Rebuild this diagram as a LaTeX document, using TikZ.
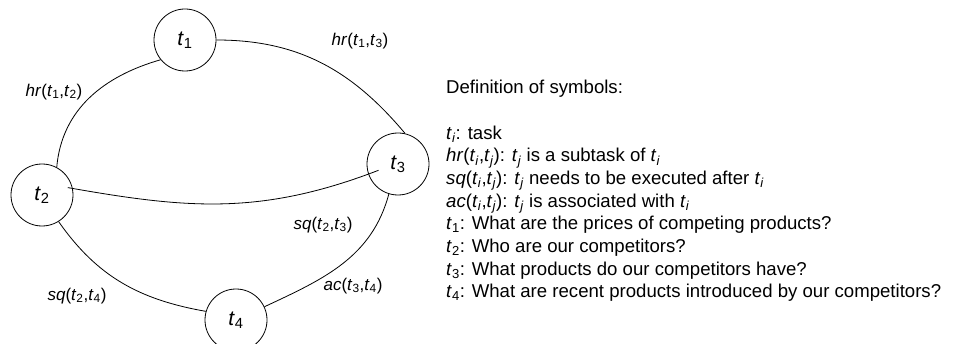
\documentclass[tikz,border=0pt]{standalone}
\usepackage{fontspec}
\setmainfont{Liberation Sans}
\usetikzlibrary{positioning}

\newcommand{\tk}[1]{\textit{t}\textsubscript{#1}}
\newcommand{\tki}{\tk{\textit{i}}}
\newcommand{\tkj}{\tk{\textit{j}}}

\begin{document}
\begin{tikzpicture}[x=1pt, y=1pt,
  task/.style={draw, circle, minimum size=62pt, inner sep=0pt, line width=0.8pt,
    font=\fontsize{21}{21}\selectfont},
  rel/.style={inner sep=0pt, font=\fontsize{17}{17}\selectfont},
  legend/.style={align=left, inner sep=0pt, font=\fontsize{18.6}{22.7}\selectfont}]
  \useasboundingbox (0,0) rectangle (953,343);
  % Task nodes
  \node[task] (t1) at (185,303) {\tk{1}};
  \node[task] (t2) at (42,148) {\tk{2}};
  \node[task] (t3) at (398,179) {\tk{3}};
  \node[task] (t4) at (236,23) {\tk{4}};
  % Relations between tasks
  \draw[line width=0.8pt] (t1.east) to[out=0, in=130] (t3.77);
  \draw[line width=0.8pt] (t1.219) to[out=196, in=85] (t2.62);
  \draw[line width=0.8pt, shorten <=-5pt, shorten >=-11pt]
    (t2.12) to[out=-10, in=201] (t3.199);
  \draw[line width=0.8pt] (t2.302) to[out=-55, in=170] (t4.164);
  \draw[line width=0.8pt] (t3.253) to[out=-105, in=25] (t4.25);
  % Labels of the relations
  \node[rel] (hr13) at (360,302) {\textit{hr}(\tk{1},\tk{3})};
  \node[rel] (hr12) at (54,251) {\textit{hr}(\tk{1},\tk{2})};
  \node[rel] (sq23) at (323,118) {\textit{sq}(\tk{2},\tk{3})};
  \node[rel] (ac34) at (353,57) {\textit{ac}(\tk{3},\tk{4})};
  \node[rel] (sq24) at (77,47) {\textit{sq}(\tk{2},\tk{4})};
  % Definition of symbols
  \node[legend, anchor=north west] (symbols) at (446,263) {%
    Definition of symbols:\\[22.7pt]
    \tki: task\\
    \textit{hr}(\tki,\tkj): \tkj{} is a subtask of \tki\\
    \textit{sq}(\tki,\tkj): \tkj{} needs to be executed after \tki\\
    \textit{ac}(\tki,\tkj): \tkj{} is associated with \tki\\
    \tk{1}: What are the prices of competing products?\\
    \tk{2}: Who are our competitors?\\
    \tk{3}: What products do our competitors have?\\
    \tk{4}: What are recent products introduced by our competitors?};
\end{tikzpicture}
\end{document}
